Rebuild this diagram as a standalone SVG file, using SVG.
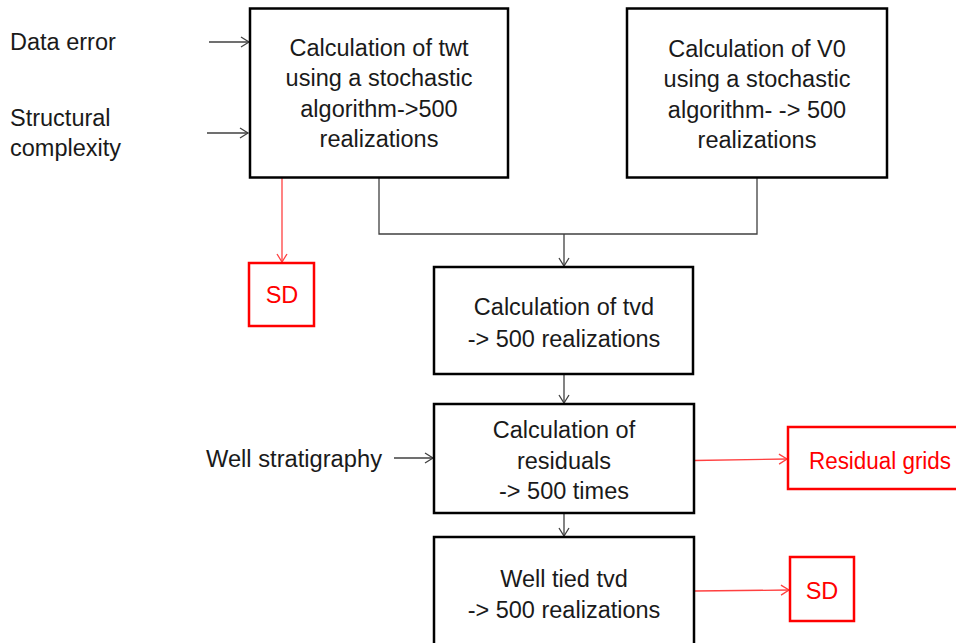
<svg xmlns="http://www.w3.org/2000/svg" width="956" height="643" viewBox="0 0 956 643">
<defs>
<style>
.box{fill:#fff;stroke:#000;stroke-width:2.5}
.rbox{fill:#fff;stroke:#ff0000;stroke-width:2.5}
.t{font-family:"Liberation Sans",Arial,sans-serif;font-size:23.5px;fill:#1a1a1a;text-anchor:middle}
.tl{font-family:"Liberation Sans",Arial,sans-serif;font-size:23.5px;fill:#1a1a1a}
.rt{font-family:"Liberation Sans",Arial,sans-serif;font-size:23.5px;fill:#ff0000;text-anchor:middle}
.c{fill:none;stroke:#404040;stroke-width:1.3}
.rc{fill:none;stroke:#ff4040;stroke-width:1.3}
</style>
<marker id="ah" markerWidth="12" markerHeight="12" refX="10" refY="6" orient="auto" markerUnits="userSpaceOnUse">
<polyline points="2,1 10,6 2,11" fill="none" stroke="#404040" stroke-width="1.3"/>
</marker>
<marker id="rah" markerWidth="12" markerHeight="12" refX="10" refY="6" orient="auto" markerUnits="userSpaceOnUse">
<polyline points="2,1 10,6 2,11" fill="none" stroke="#ff4040" stroke-width="1.3"/>
</marker>
</defs>
<rect width="956" height="643" fill="#fff"/>

<g id="connectors">
<line class="c" x1="209" y1="42" x2="249" y2="42" marker-end="url(#ah)"/>
<line class="c" x1="207" y1="133" x2="248" y2="133" marker-end="url(#ah)"/>
<polyline class="c" points="379,178 379,234 757,234 757,178"/>
<line class="c" x1="564" y1="234" x2="564" y2="266" marker-end="url(#ah)"/>
<line class="c" x1="564" y1="375" x2="564" y2="403" marker-end="url(#ah)"/>
<line class="c" x1="564" y1="514" x2="564" y2="536" marker-end="url(#ah)"/>
<line class="c" x1="394" y1="458" x2="433" y2="458" marker-end="url(#ah)"/>
<line class="rc" x1="282" y1="178" x2="282" y2="262" marker-end="url(#rah)"/>
<line class="rc" x1="694" y1="460.5" x2="787" y2="459" marker-end="url(#rah)"/>
<line class="rc" x1="694" y1="591" x2="789" y2="590" marker-end="url(#rah)"/>
</g>

<g id="label-data-error"><text class="tl" x="10" y="50">Data error</text></g>
<g id="label-structural"><text class="tl" x="10" y="126">Structural</text><text class="tl" x="10" y="156">complexity</text></g>
<g id="label-well-strat"><text class="tl" x="206" y="467" textLength="176" lengthAdjust="spacingAndGlyphs">Well stratigraphy</text></g>

<g id="twt">
<rect class="box" x="250" y="8.5" width="258" height="169"/>
<text class="t" x="379" y="56">Calculation of twt</text>
<text class="t" x="379" y="86">using a stochastic</text>
<text class="t" x="379" y="117">algorithm-&gt;500</text>
<text class="t" x="379" y="147">realizations</text>
</g>

<g id="v0">
<rect class="box" x="627" y="8.5" width="260" height="169"/>
<text class="t" x="757" y="57">Calculation of V0</text>
<text class="t" x="757" y="87">using a stochastic</text>
<text class="t" x="757" y="118">algorithm- -&gt; 500</text>
<text class="t" x="757" y="148">realizations</text>
</g>

<g id="sd1">
<rect class="rbox" x="249" y="263" width="65" height="63"/>
<text class="rt" x="282" y="303">SD</text>
</g>

<g id="tvd">
<rect class="box" x="434" y="267" width="259" height="107"/>
<text class="t" x="564" y="315">Calculation of tvd</text>
<text class="t" x="564" y="347">-&gt; 500 realizations</text>
</g>

<g id="residuals">
<rect class="box" x="434" y="404" width="260" height="109"/>
<text class="t" x="564" y="438">Calculation of</text>
<text class="t" x="564" y="469">residuals</text>
<text class="t" x="564" y="499">-&gt; 500 times</text>
</g>

<g id="residual-grids">
<rect class="rbox" x="788" y="427" width="175" height="62"/>
<text class="rt" x="809" y="469" style="text-anchor:start" textLength="142" lengthAdjust="spacingAndGlyphs">Residual grids</text>
</g>

<g id="welltied">
<rect class="box" x="434" y="537" width="260" height="115"/>
<text class="t" x="564" y="587">Well tied tvd</text>
<text class="t" x="564" y="618">-&gt; 500 realizations</text>
</g>

<g id="sd2">
<rect class="rbox" x="790" y="557" width="64" height="64"/>
<text class="rt" x="822" y="599">SD</text>
</g>
</svg>
